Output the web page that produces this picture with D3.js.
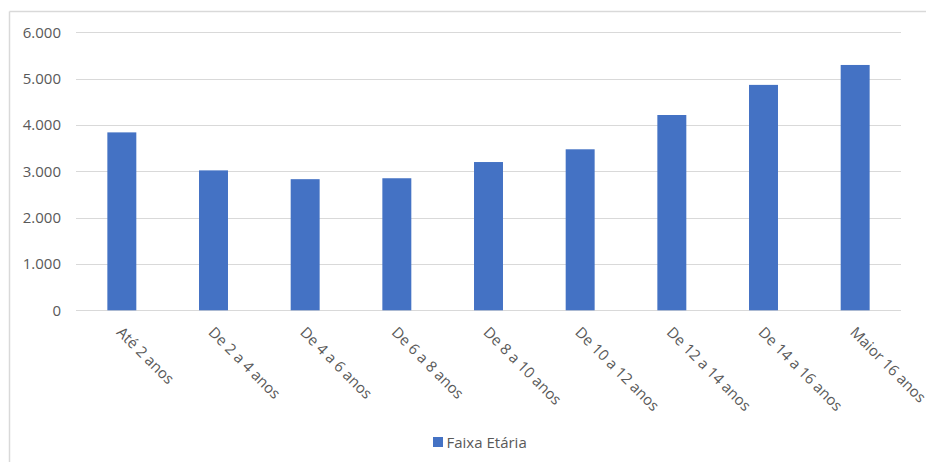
<!DOCTYPE html>
<html>
<head>
<meta charset="utf-8">
<script src="https://cdn.jsdelivr.net/npm/d3@7"></script>
<style>
  html, body { margin: 0; padding: 0; background: #fff; }
  svg { display: block; font-family: "Open Sans", "Noto Sans", sans-serif; }
</style>
</head>
<body>
<svg id="chart" width="926" height="462"></svg>
<script>
const categories = ["Até 2 anos", "De 2 a 4 anos", "De 4 a 6 anos", "De 6 a 8 anos", "De 8 a 10 anos", "De 10 a 12 anos", "De 12 a 14 anos", "De 14 a 16 anos", "Maior 16 anos"];
const values = [3840, 3020, 2830, 2850, 3200, 3475, 4215, 4865, 5295];
const yTicks = [0, 1000, 2000, 3000, 4000, 5000, 6000];
const seriesName = "Faixa Etária";

const svg = d3.select("#chart");
const textColor = "#595959";
const gridColor = "#d9d9d9";
const barColor = "#4472C4";

// chart border (left and top only visible)
svg.append("line").attr("x1", 9.5).attr("x2", 9.5).attr("y1", 11.5).attr("y2", 462).attr("stroke", gridColor).attr("stroke-width", 1.5);
svg.append("line").attr("x1", 9.5).attr("x2", 926).attr("y1", 11.5).attr("y2", 11.5).attr("stroke", gridColor).attr("stroke-width", 1.5);

const plot = { left: 76, right: 901, top: 32.3, bottom: 310.3 };

const x = d3.scaleBand().domain(categories).range([plot.left, plot.right]).paddingInner(0.684).paddingOuter(0.342);
const y = d3.scaleLinear().domain([0, 6000]).range([plot.bottom, plot.top]);

const fmt = v => d3.format(",")(v).replace(/,/g, ".");

// gridlines
svg.append("g").selectAll("line").data(yTicks).join("line")
  .attr("x1", plot.left).attr("x2", plot.right)
  .attr("y1", d => Math.round(y(d)) + 0.5).attr("y2", d => Math.round(y(d)) + 0.5)
  .attr("stroke", gridColor).attr("stroke-width", 1.2);

// y labels
svg.append("g").selectAll("text").data(yTicks).join("text")
  .attr("x", 61).attr("y", d => y(d)).attr("dy", "0.35em")
  .attr("text-anchor", "end").attr("fill", textColor).attr("font-size", 15)
  .text(d => fmt(d));

// bars
svg.append("g").selectAll("rect").data(values).join("rect")
  .attr("x", (d, i) => x(categories[i]))
  .attr("width", x.bandwidth())
  .attr("y", d => y(d))
  .attr("height", d => y(0) - y(d))
  .attr("fill", barColor);

// category labels rotated
svg.append("g").selectAll("text").data(categories).join("text")
  .attr("transform", d => `translate(${x(d) + x.bandwidth() / 2 - 6},${plot.bottom + 23}) rotate(45)`)
  .attr("text-anchor", "start").attr("fill", textColor).attr("font-size", 15)
  .text(d => d);

// legend
const lg = svg.append("g");
lg.append("rect").attr("x", 433).attr("y", 437).attr("width", 10).attr("height", 10).attr("fill", barColor);
lg.append("text").attr("x", 446.5).attr("y", 447.5).attr("fill", textColor).attr("font-size", 15).text(seriesName);
</script>
</body>
</html>
